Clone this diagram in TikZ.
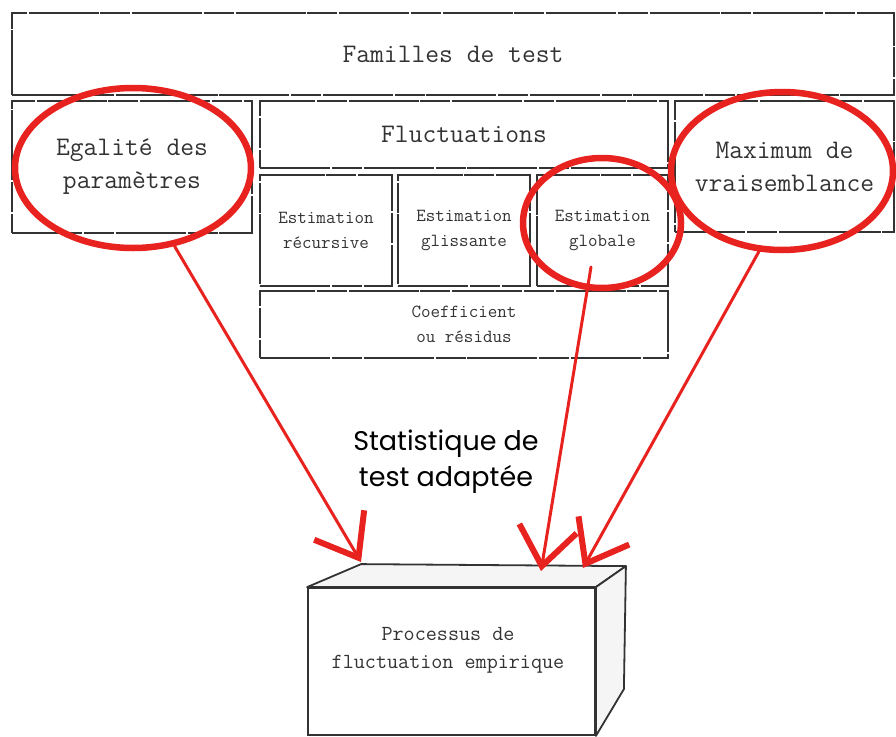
\documentclass[tikz,border=0pt]{standalone}
\usepackage{fontspec}
\newfontfamily\handfont{Poppins}
\usepackage{tikz}
\usetikzlibrary{arrows.meta,shapes.geometric}
\definecolor{marker}{HTML}{E8221F}
\definecolor{ink}{HTML}{333333}

\tikzset{
  cell/.style={draw=ink, line width=1.4pt, dash pattern=on 70pt off 2pt on 30pt off 1.5pt,
    inner sep=0pt, align=center, text=ink, font=\ttfamily\fontsize{26.8}{33}\selectfont},
  subcell/.style={cell, font=\ttfamily\fontsize{18.5}{25}\selectfont},
  ring/.style={ellipse, draw=marker, line width=6.5pt, inner sep=0pt},
  crayon/.style={draw=marker, line width=3pt, line cap=round,
    -{Straight Barb[length=38pt, width=58pt, line width=6pt]}},
  face/.style={fill=gray!8, draw=ink, line width=1.8pt, line join=round}
}

\begin{document}
\begin{tikzpicture}[x=1pt, y=-1pt]
    \useasboundingbox (0,0) rectangle (896,736);

    % Families
    \node[cell, minimum width=882, minimum height=82] (familles) at (453,54) {Familles de test};
    \node[cell, minimum width=240, minimum height=132] (egalite) at (132,167) {Egalité des\\paramètres};
    \node[cell, minimum width=408, minimum height=67] (fluct) at (464,134.5) {Fluctuations};
    \node[cell, minimum width=219, minimum height=131] (maxvrai) at (784.5,166.5) {Maximum de\\vraisemblance};

    % Estimation boxes
    \node[subcell, minimum width=132, minimum height=111] (recur) at (326,230.5) {Estimation\\récursive};
    \node[subcell, minimum width=132, minimum height=111] (gliss) at (464,230.5) {Estimation\\glissante};
    \node[subcell, minimum width=131, minimum height=111] (glob) at (602.5,230.5) {Estimation\\globale};
    \node[subcell, minimum width=408, minimum height=67] (coef) at (464,324.5) {Coefficient\\ou résidus};

    % Process box
    \node[draw=ink, line width=1.8pt, fill=white, minimum width=287, minimum height=147, inner sep=0pt] (crate) at (451.5,661.5) {};
    \draw[face] (crate.north west) -- +(54,-23) -- ([shift={(30,-21)}]crate.north east) -- (crate.north east) -- cycle;
    \draw[face] (crate.north east) -- +(30,-21) -- +(28,102) -- (crate.south east) -- cycle;
    \node[font=\ttfamily\fontsize{21.5}{28}\selectfont, align=center, text=ink] (proclabel) at (448,650) {Processus de\\fluctuation empirique};

    % Label
    \node[font=\handfont\fontsize{27}{36}\selectfont, align=center] (stat) at (446,462) {Statistique de\\test adaptée};

    % Rings
    \node[ring, minimum width=236, minimum height=160] (egalring) at (133,168) {};
    \node[ring, minimum width=158, minimum height=130] (globring) at (602,223) {};
    \node[ring, minimum width=222, minimum height=158] (maxring) at (782,171) {};

    % Arrows
    \coordinate (globfoot) at (591,267);
    \coordinate (hitA) at (361,562);
    \coordinate (hitB) at (541,571);
    \coordinate (hitC) at (583,568);
    \draw[crayon] (egalring.-62) -- (hitA);
    \draw[crayon] (globfoot) -- (hitB);
    \draw[crayon] (maxring.-106) -- (hitC);
\end{tikzpicture}
\end{document}
